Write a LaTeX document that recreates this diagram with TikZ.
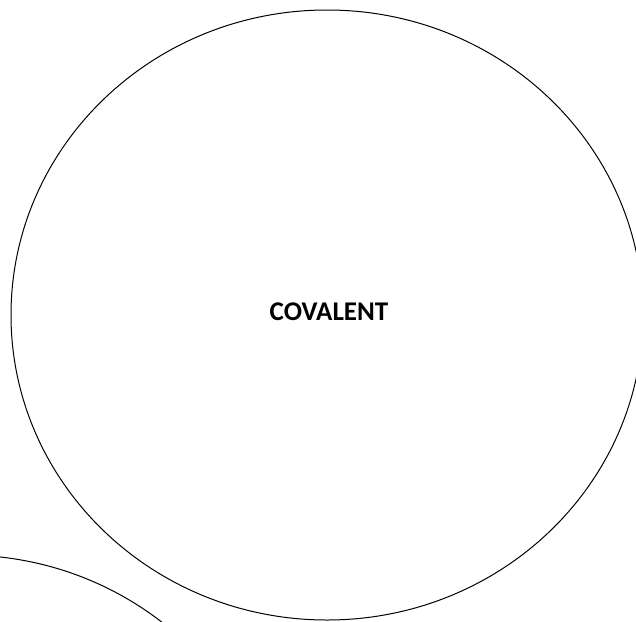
\documentclass[tikz,border=0pt]{standalone}
\usepackage{fontspec}
\setmainfont{Carlito}
\usetikzlibrary{shapes.geometric}
\begin{document}
\begin{tikzpicture}[x=1pt,y=-1pt,
  ring/.style={draw=black,line width=1pt,ellipse,minimum width=632pt,minimum height=610pt,inner sep=0pt},
  label/.style={font=\bfseries\fontsize{27}{30}\selectfont,inner sep=0pt}]
\useasboundingbox (0,0) rectangle (636,621);
\clip (0,0) rectangle (636,621);
\node[ring] (covalent) at (327,315) {};
\node[label] (covlabel) at (329,312) {COVALENT};
\node[ring] (other) at (-36,860) {};
\end{tikzpicture}
\end{document}
